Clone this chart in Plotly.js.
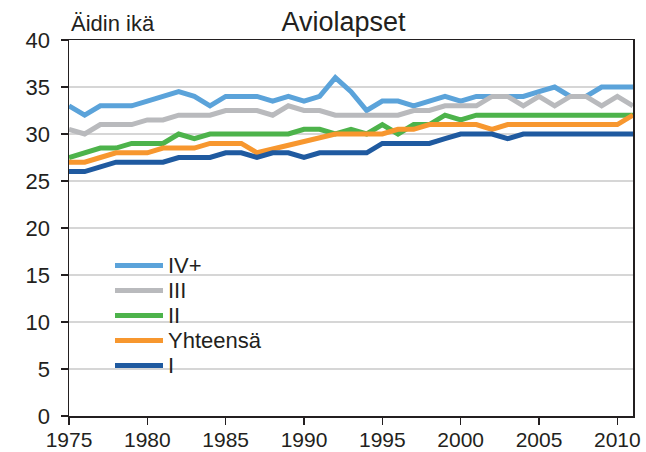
<!DOCTYPE html>
<html>
<head>
<meta charset="utf-8">
<script src="https://cdn.plot.ly/plotly-3.0.1.min.js"></script>
<style>html,body{margin:0;padding:0;background:#fff;}#chart{width:646px;height:452px;}</style>
</head>
<body>
<div id="chart"></div>
<script>
const years = [1975,1976,1977,1978,1979,1980,1981,1982,1983,1984,1985,1986,1987,1988,1989,1990,1991,1992,1993,1994,1995,1996,1997,1998,1999,2000,2001,2002,2003,2004,2005,2006,2007,2008,2009,2010,2011];

const ivPlus    = [33,32,33,33,33,33.5,34,34.5,34,33,34,34,34,33.5,34,33.5,34,36,34.5,32.5,33.5,33.5,33,33.5,34,33.5,34,34,34,34,34.5,35,34,34,35,35,35];
const iii       = [30.5,30,31,31,31,31.5,31.5,32,32,32,32.5,32.5,32.5,32,33,32.5,32.5,32,32,32,32,32,32.5,32.5,33,33,33,34,34,33,34,33,34,34,33,34,33];
const ii        = [27.5,28,28.5,28.5,29,29,29,30,29.5,30,30,30,30,30,30,30.5,30.5,30,30.5,30,31,30,31,31,32,31.5,32,32,32,32,32,32,32,32,32,32,32];
const yhteensa  = [27,27,27.5,28,28,28,28.5,28.5,28.5,29,29,29,28,28.4,28.8,29.2,29.6,30,30,30,30,30.5,30.5,31,31,31,31,30.5,31,31,31,31,31,31,31,31,32];
const i1        = [26,26,26.5,27,27,27,27,27.5,27.5,27.5,28,28,27.5,28,28,27.5,28,28,28,28,29,29,29,29,29.5,30,30,30,29.5,30,30,30,30,30,30,30,30];

const seriesNames  = ['IV+','III','II','Yhteensä','I'];
const seriesValues = [ivPlus, iii, ii, yhteensa, i1];
const seriesColors = ['#5BA3DA','#B9BABD','#4DB34B','#F7972F','#1F5AA0'];

const yTicks = [0,5,10,15,20,25,30,35,40];
const xTicks = [1975,1980,1985,1990,1995,2000,2005,2010];

const txt = '#231F20';
const fontFam = '"Liberation Sans", Arial, sans-serif';

const traces = seriesNames.map((n, k) => ({
  x: years, y: seriesValues[k], name: n, type: 'scatter', mode: 'lines',
  line: {color: seriesColors[k], width: 5, shape: 'linear'}, showlegend: false
}));

// plot area in pixels: left 69, right 633, top 40, bottom 416
const pxX = px => (px - 69) / 564;
const pxY = py => (416 - py) / 376;

const legendShapes = [];
const legendAnns = [];
seriesNames.forEach((n, k) => {
  const yc = 265.5 + 25 * k;
  legendShapes.push({type: 'line', xref: 'paper', yref: 'paper',
    x0: pxX(115), x1: pxX(163), y0: pxY(yc), y1: pxY(yc),
    line: {color: seriesColors[k], width: 5}});
  legendAnns.push({text: n, xref: 'paper', yref: 'paper', x: pxX(166), xanchor: 'left',
    y: pxY(yc), yanchor: 'middle', showarrow: false,
    font: {size: 22, color: txt, family: fontFam}});
});

const layout = {
  width: 646, height: 452,
  margin: {l: 69, r: 13, t: 40, b: 36, pad: 0},
  paper_bgcolor: '#fff', plot_bgcolor: '#fff',
  font: {family: fontFam, color: txt, size: 22},
  title: {text: 'Aviolapset', font: {family: fontFam, size: 27, color: txt},
          x: 343.5/646, xref: 'container', xanchor: 'center',
          y: 1 - 22/452, yref: 'container', yanchor: 'middle'},
  xaxis: {range: [1975, 2011], tickvals: xTicks, ticktext: xTicks.map(String),
          ticks: 'outside', ticklen: 7, tickwidth: 1.5, tickcolor: txt,
          showline: true, linecolor: txt, linewidth: 1.5, mirror: true,
          showgrid: false, zeroline: false, tickfont: {size: 21, color: txt},
          ticklabelstandoff: -3},
  yaxis: {range: [0, 40], tickvals: yTicks, ticktext: yTicks.map(String),
          ticks: 'outside', ticklen: 7, tickwidth: 1.5, tickcolor: txt,
          showline: true, linecolor: txt, linewidth: 1.5, mirror: true,
          showgrid: true, gridcolor: '#D6D6D6', gridwidth: 1.5, zeroline: false,
          tickfont: {size: 22, color: txt}, ticklabelstandoff: 6},
  showlegend: false,
  shapes: legendShapes,
  annotations: [{text: 'Äidin ikä', xref: 'paper', yref: 'paper', x: 0, xanchor: 'left',
                 y: 1 + (40-24)/376, yanchor: 'middle', showarrow: false,
                 font: {size: 22, color: txt, family: fontFam}}].concat(legendAnns)
};

Plotly.newPlot('chart', traces, layout, {displayModeBar: false, staticPlot: true});
</script>
</body>
</html>
